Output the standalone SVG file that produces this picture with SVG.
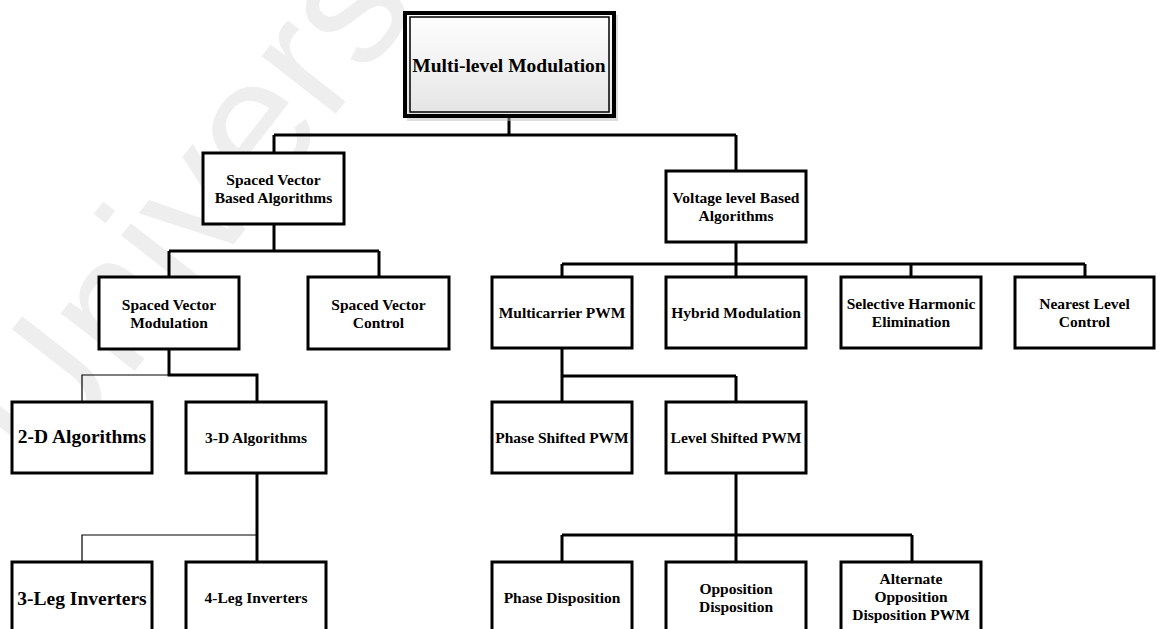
<svg xmlns="http://www.w3.org/2000/svg" width="1160" height="629" viewBox="0 0 1160 629">
  <style>
    .box { fill: #ffffff; stroke: #000000; stroke-width: 3; }
    .lbl { font-family: "Liberation Serif", "Times New Roman", serif; font-weight: bold; font-size: 15.5px; fill: #000000; text-anchor: middle; }
    .big { font-size: 19.5px; }
    .wire { fill: none; stroke: #000000; stroke-width: 3; stroke-linejoin: miter; }
    .thin { fill: none; stroke: #000000; stroke-width: 1.2; }
    .mark { font-family: "Liberation Sans", Arial, sans-serif; font-size: 178px; fill: #eeeeee; }
  </style>
  <defs>
    <linearGradient id="rootFill" x1="0" y1="0" x2="0" y2="1">
      <stop offset="0" stop-color="#ffffff"/>
      <stop offset="1" stop-color="#e4e4e4"/>
    </linearGradient>
  </defs>

  <rect width="1160" height="629" fill="#ffffff"/>

  <!-- background watermark -->
  <text class="mark" transform="translate(48,482) rotate(-52)">Universiti</text>

  <!-- connectors -->
  <g id="connectors">
    <path class="wire" d="M509,118 V135 M274,135 H736 M274,135 V153 M736,135 V171"/>
    <path class="wire" d="M274,224 V251 M169,251 H379 M169,251 V277 M379,251 V277"/>
    <path class="wire" d="M169,349 V375 H257 V402"/>
    <path class="thin" d="M169,375 H82 V402"/>
    <path class="wire" d="M257,473 V562"/>
    <path class="thin" d="M257,535 H82 V562"/>
    <path class="wire" d="M736,242 V264 M562,264 H1085 M562,264 V277 M736,264 V277 M911,264 V277 M1085,264 V277"/>
    <path class="wire" d="M562,348 V376 M562,376 H736 M562,376 V402 M736,376 V402"/>
    <path class="wire" d="M736,473 V535 M562,535 H912 M562,535 V562 M736,535 V562 M912,535 V562"/>
  </g>

  <!-- root -->
  <g id="n-root">
    <rect x="407" y="15" width="211" height="106" fill="#bdbdbd" opacity="0.5"/>
    <rect x="405" y="13" width="209" height="103" fill="url(#rootFill)" stroke="#000" stroke-width="4"/>
    <rect x="410" y="17" width="199" height="95" fill="none" stroke="#000" stroke-width="1.5"/>
    <text class="lbl big" x="509" y="72">Multi-level Modulation</text>
  </g>

  <g id="n-svba">
    <rect class="box" x="203" y="153" width="141" height="71"/>
    <text class="lbl" x="273.5" y="185">Spaced Vector</text>
    <text class="lbl" x="273.5" y="202.5">Based Algorithms</text>
  </g>

  <g id="n-vlba">
    <rect class="box" x="666" y="171" width="140" height="71"/>
    <text class="lbl" x="736" y="203">Voltage level Based</text>
    <text class="lbl" x="736" y="220.5">Algorithms</text>
  </g>

  <g id="n-svm">
    <rect class="box" x="99" y="277" width="140" height="72"/>
    <text class="lbl" x="169" y="310">Spaced Vector</text>
    <text class="lbl" x="169" y="328">Modulation</text>
  </g>

  <g id="n-svc">
    <rect class="box" x="308" y="277" width="141" height="72"/>
    <text class="lbl" x="378.5" y="310">Spaced Vector</text>
    <text class="lbl" x="378.5" y="328">Control</text>
  </g>

  <g id="n-mpwm">
    <rect class="box" x="492" y="277" width="140" height="71"/>
    <text class="lbl" x="562" y="318">Multicarrier PWM</text>
  </g>

  <g id="n-hybrid">
    <rect class="box" x="666" y="277" width="140" height="71"/>
    <text class="lbl" x="736" y="318">Hybrid Modulation</text>
  </g>

  <g id="n-she">
    <rect class="box" x="841" y="277" width="140" height="71"/>
    <text class="lbl" x="911" y="309">Selective Harmonic</text>
    <text class="lbl" x="911" y="327">Elimination</text>
  </g>

  <g id="n-nlc">
    <rect class="box" x="1015" y="277" width="139" height="71"/>
    <text class="lbl" x="1084.5" y="309">Nearest Level</text>
    <text class="lbl" x="1084.5" y="327">Control</text>
  </g>

  <g id="n-2d">
    <rect class="box" x="12" y="402" width="140" height="71"/>
    <text class="lbl big" x="82" y="443">2-D Algorithms</text>
  </g>

  <g id="n-3d">
    <rect class="box" x="186" y="402" width="140" height="71"/>
    <text class="lbl" x="256" y="443">3-D Algorithms</text>
  </g>

  <g id="n-pspwm">
    <rect class="box" x="492" y="402" width="140" height="71"/>
    <text class="lbl" x="562" y="443">Phase Shifted PWM</text>
  </g>

  <g id="n-lspwm">
    <rect class="box" x="666" y="402" width="140" height="71"/>
    <text class="lbl" x="736" y="443">Level Shifted PWM</text>
  </g>

  <g id="n-3leg">
    <rect class="box" x="12" y="562" width="140" height="80"/>
    <text class="lbl big" x="82" y="605">3-Leg Inverters</text>
  </g>

  <g id="n-4leg">
    <rect class="box" x="186" y="562" width="140" height="80"/>
    <text class="lbl" x="256" y="603">4-Leg Inverters</text>
  </g>

  <g id="n-pd">
    <rect class="box" x="492" y="562" width="140" height="80"/>
    <text class="lbl" x="562" y="603">Phase Disposition</text>
  </g>

  <g id="n-od">
    <rect class="box" x="666" y="562" width="140" height="80"/>
    <text class="lbl" x="736" y="594">Opposition</text>
    <text class="lbl" x="736" y="612">Disposition</text>
  </g>

  <g id="n-aod">
    <rect class="box" x="841" y="562" width="140" height="80"/>
    <text class="lbl" x="911" y="584">Alternate</text>
    <text class="lbl" x="911" y="602">Opposition</text>
    <text class="lbl" x="911" y="620">Disposition PWM</text>
  </g>
</svg>
